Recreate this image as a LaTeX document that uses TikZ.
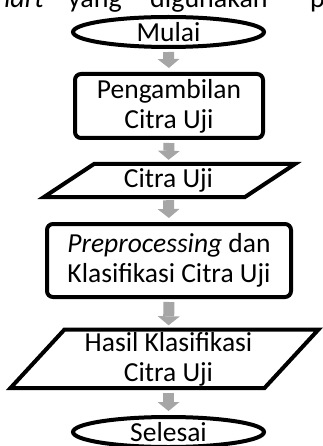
\documentclass[tikz,border=0pt]{standalone}
\usepackage{fontspec}
\setmainfont{Carlito}
\usetikzlibrary{shapes.geometric,arrows.meta,calc}
\definecolor{arrowgray}{HTML}{A6A6A6}
\begin{document}
\begin{tikzpicture}[x=1pt,y=-1pt,
  lbl/.style={font=\fontsize{27.5}{30}\selectfont, align=center, inner sep=0pt},
  toptext/.style={font=\fontsize{28}{30}\selectfont, inner sep=0pt},
  border/.style={draw=black, line width=4pt},
  term/.style={lbl, border, ellipse, minimum width=191pt, minimum height=30pt},
  procbox/.style={lbl, border, rounded corners=6pt, rectangle},
  paratext/.style={lbl},
  flowarrow/.style={draw=arrowgray, line width=11pt,
    -{Triangle[width=22pt,length=9pt,line width=0pt]},
    shorten <=3pt, shorten >=4pt}
]
\useasboundingbox (0,0) rectangle (323,446);
\clip (0,0) rectangle (323,446);

% clipped line of body text above the chart
\node[toptext, anchor=base east] (w1) at (44,8) {\textit{chart}};
\node[toptext, anchor=base west] (w2) at (68,8) {yang};
\node[toptext, anchor=base west] (w3) at (150,8) {digunakan};
\node[toptext, anchor=base west] (w4) at (310,8) {p};

% nodes
\node[term] (mulai) at (168.5,32) {Mulai};
\node[procbox, minimum width=188pt, minimum height=64pt] (ambil) at (169,106)
  {Pengambilan\\Citra Uji};
\node[paratext, minimum width=150pt, minimum height=33pt] (citra) at (168.5,180.5) {Citra Uji};
\draw[border, line join=miter]
  ($(citra)+(-74.5,-16.5)$) -- ($(citra)+(126.5,-16.5)$) --
  ($(citra)+(76.5,16.5)$) -- ($(citra)+(-124.5,16.5)$) -- cycle;
\node[procbox, minimum width=244pt, minimum height=73pt] (proses) at (169,260.5)
  {\textit{Preprocessing} dan\\Klasifikasi Citra Uji};
\node[paratext, minimum width=180pt, minimum height=60pt] (hasil) at (168.5,359.5)
  {Hasil Klasifikasi\\Citra Uji};
\draw[border, line join=miter]
  ($(hasil)+(-104,-30)$) -- ($(hasil)+(150,-30)$) --
  ($(hasil)+(96,28.5)$) -- ($(hasil)+(-158,28.5)$) -- cycle;
\node[term] (selesai) at (168.5,432) {Selesai};

% connectors
\draw[flowarrow] (mulai.south) -- (ambil.north);
\draw[flowarrow] (ambil.south) -- (citra.north);
\draw[flowarrow] (citra.south) -- (proses.north);
\draw[flowarrow] (proses.south) -- (hasil.north);
\draw[flowarrow] (hasil.south) -- (selesai.north);
\end{tikzpicture}
\end{document}
